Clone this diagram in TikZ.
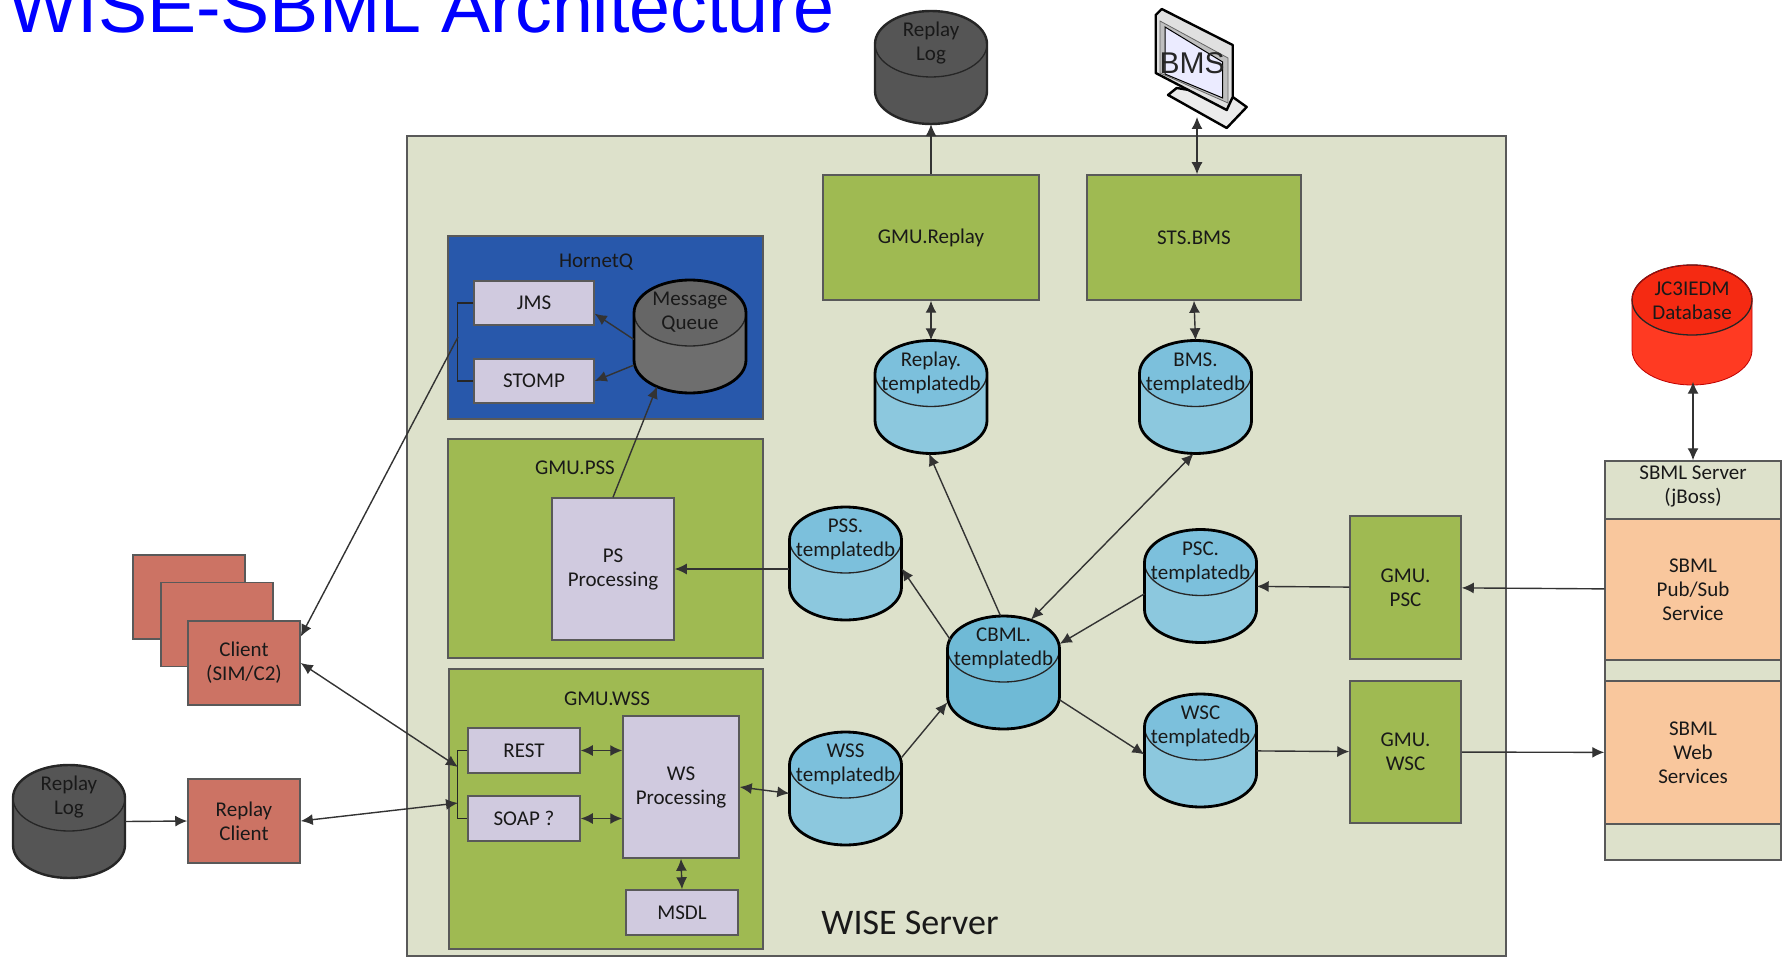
\documentclass[tikz,border=0pt]{standalone}
\usepackage{fontspec}
\setmainfont{Carlito}
\newfontfamily\arialfont{Liberation Sans}
\usetikzlibrary{arrows.meta}
\definecolor{servergreen}{HTML}{DDE1CB}
\definecolor{gmugreen}{HTML}{9FBA52}
\definecolor{lilac}{HTML}{D0CADF}
\definecolor{hornetblue}{HTML}{2858AB}
\definecolor{salmon}{HTML}{CC7364}
\definecolor{peach}{HTML}{F9C79D}
\definecolor{dbtop}{HTML}{7CC0DC}
\definecolor{dbbody}{HTML}{8CC8DE}
\definecolor{cbmlblue}{HTML}{6FBAD6}
\definecolor{logtop}{HTML}{555555}
\definecolor{queuetop}{HTML}{666666}
\definecolor{queuebody}{HTML}{6E6E6E}
\definecolor{redtop}{HTML}{F52A12}
\definecolor{redbody}{HTML}{FF3A22}
\tikzset{
	boxtext/.style={font=\fontsize{21}{24}\selectfont, align=center, text=black!90},
	plainbox/.style={draw=black!65, line width=1.5pt, inner sep=0pt, boxtext},
	greenbox/.style={plainbox, fill=gmugreen},
	lilacbox/.style={plainbox, fill=lilac},
	clientbox/.style={plainbox, fill=salmon, minimum width=112pt, minimum height=84pt},
	peachbox/.style={plainbox, fill=peach, minimum width=176pt},
	dbshape/.style={inner sep=0pt, minimum width=112pt, minimum height=113pt},
	arrowline/.style={draw=black!80, line width=1.4pt, -{Latex[length=12pt,width=11pt]}},
	bothline/.style={draw=black!80, line width=1.4pt, {Latex[length=12pt,width=11pt]}-{Latex[length=12pt,width=11pt]}}
}
\begin{document}
\begin{tikzpicture}[x=1pt,y=-1pt]
	\useasboundingbox (0,0) rectangle (1784,957);

	\node[anchor=base west, inner sep=0pt, text=blue, font=\arialfont\fontsize{73.6}{80}\selectfont] (title) at (8,33) {WISE-SBML Architecture};

	% WISE server
	\node[plainbox, fill=servergreen, minimum width=1099pt, minimum height=820pt] (server) at (956.5,546) {};
	\node[font=\fontsize{36}{40}\selectfont, text=black!90] (serverlabel) at (910,923) {WISE Server};

	% left column
	\node[clientbox] (clientc) at (189,597) {};
	\node[clientbox] (clientb) at (217,624.5) {};
	\node[clientbox] (client) at (244,663) {Client\\(SIM/C2)};
	\node[clientbox] (replayclient) at (244,821) {Replay\\Client};

	% HornetQ
	\node[plainbox, fill=hornetblue, minimum width=315pt, minimum height=183pt] (hornetq) at (605.5,327.5) {};
	\node[boxtext] (hornetlabel) at (596,262) {HornetQ};
	\node[lilacbox, minimum width=120pt, minimum height=44pt] (jms) at (534,303) {JMS};
	\node[lilacbox, minimum width=120pt, minimum height=44pt] (stomp) at (534,381) {STOMP};

	% GMU.PSS
	\node[greenbox, minimum width=315pt, minimum height=219pt] (gmupss) at (605.5,548.5) {};
	\node[boxtext] (psslabel) at (575,468) {GMU.PSS};
	\node[lilacbox, minimum width=122pt, minimum height=142pt] (psproc) at (613,569) {PS\\Processing};

	% GMU.WSS
	\node[greenbox, minimum width=314pt, minimum height=280pt] (gmuwss) at (606,809) {};
	\node[boxtext] (wsslabel) at (607,699) {GMU.WSS};
	\node[lilacbox, minimum width=112pt, minimum height=45pt] (rest) at (524,750.5) {REST};
	\node[lilacbox, minimum width=112pt, minimum height=45pt] (soap) at (524,818.5) {SOAP ?};
	\node[lilacbox, minimum width=116pt, minimum height=142pt] (wsproc) at (681,787) {WS\\Processing};
	\node[lilacbox, minimum width=112pt, minimum height=45pt] (msdl) at (682,912.5) {MSDL};

	% top and right boxes
	\node[greenbox, minimum width=216pt, minimum height=125pt] (gmureplay) at (931,237.5) {GMU.Replay};
	\node[greenbox, minimum width=214pt, minimum height=125pt] (stsbms) at (1194,237.5) {STS.BMS};
	\node[greenbox, minimum width=111pt, minimum height=143pt] (gmupsc) at (1405.5,587.5) {GMU.\\PSC};
	\node[greenbox, minimum width=111pt, minimum height=142pt] (gmuwsc) at (1405.5,752) {GMU.\\WSC};

	\node[plainbox, fill=servergreen, minimum width=176pt, minimum height=399pt] (sbmlserver) at (1693,660.5) {};
	\node[boxtext] (sbmllabel) at (1693,486) {SBML Server\\(jBoss)};
	\node[peachbox, minimum height=141pt] (pubsub) at (1693,589.5) {SBML\\Pub/Sub\\Service};
	\node[peachbox, minimum height=143pt] (websvc) at (1693,752.5) {SBML\\Web\\Services};

	% databases
	\foreach \name/\x/\y/\lines/\topc/\bodyc/\edgec/\lw/\rx/\ry/\side in {
		logtop/931/67.5/{Replay\\Log}/logtop/logtop/black!85/2.4/56/33/23.5,
		logleft/69/821.5/{Replay\\Log}/logtop/logtop/black!85/2.4/56/33/23.5,
		queue/690/336.5/{Message\\Queue}/queuetop/queuebody/black/2.8/56/33/23.5,
		replaydb/931/397/{Replay.\\templatedb}/dbtop/dbbody/black/2.8/56/33/23.5,
		bmsdb/1195.5/397/{BMS.\\templatedb}/dbtop/dbbody/black/2.8/56/33/23.5,
		pssdb/845.5/563.5/{PSS.\\templatedb}/dbtop/dbbody/black/2.8/56/33/23.5,
		wssdb/845.5/788.5/{WSS\\templatedb}/dbtop/dbbody/black/2.8/56/33/23.5,
		pscdb/1200.5/586/{PSC.\\templatedb}/dbtop/dbbody/black/2.8/56/33/23.5,
		wscdb/1200.5/750.5/{WSC\\templatedb}/dbtop/dbbody/black/2.8/56/33/23.5,
		cbmldb/1003.5/672.5/{CBML.\\templatedb}/cbmlblue/cbmlblue/black/2.8/56/33/23.5,
		jcdb/1692/325/{JC3IEDM\\Database}/redtop/redbody/red!75!black/0.8/60/35/25}
	{
		\node[dbshape] (\name) at (\x,\y) {};
		\path[fill=\bodyc] ([shift={(\rx pt,\side pt)}]\name.center)
			arc[start angle=0, delta angle=180, x radius=\rx pt, y radius=\ry pt]
			-- ++(0pt,-2*\side pt)
			arc[start angle=180, delta angle=180, x radius=\rx pt, y radius=\ry pt] -- cycle;
		\draw[draw=black!85, line width=1.3pt, fill=\topc] ([yshift=\side pt]\name.center)
			ellipse [x radius=\rx pt, y radius=\ry pt];
		\draw[draw=\edgec, line width=\lw pt] ([shift={(\rx pt,\side pt)}]\name.center)
			arc[start angle=0, delta angle=180, x radius=\rx pt, y radius=\ry pt]
			-- ++(0pt,-2*\side pt)
			arc[start angle=180, delta angle=180, x radius=\rx pt, y radius=\ry pt] -- cycle;
		\node[boxtext] (\name text) at ([yshift=24pt]\name.center) {\lines};
	}

	% monitor
	\draw[line width=2.4pt, fill=white!92!black, line join=round] (1168,95) -- (1176.7,88) -- (1232.7,97)
		-- (1246.7,107) -- (1226.7,128) -- cycle;
	\draw[line width=2.4pt, fill=black!12, line join=round] (1155.7,15) -- (1161.7,9) -- (1232.7,45)
		-- (1232.7,97) -- (1226.7,110) -- (1155.7,73) -- cycle;
	\draw[line width=0.8pt, draw=black!60, fill=black!25] (1160,21) -- (1228,58) -- (1228,103) -- (1160,73) -- cycle;
	\draw[line width=1pt, fill=blue!8!white] (1165,27) -- (1222.7,62) -- (1222.7,98) -- (1165,74) -- cycle;
	\node[inner sep=0pt, font=\arialfont\fontsize{30}{32}\selectfont, text=black!85] (bmslabel) at (1192,63) {BMS};
	\coordinate (monitorbase) at (1197,117);

	% bus lines
	\coordinate (hornettap) at (458,337);
	\coordinate (wsstapa) at (458,767);
	\coordinate (wsstapb) at (458,803);
	\draw[draw=black!85, line width=1.4pt] (jms.west) -- ++(-16,0) |- (stomp.west);
	\draw[draw=black!85, line width=1.4pt] (rest.west) -- ++(-10,0) |- (soap.west);

	% connectors
	\draw[arrowline] (hornettap) -- (client.25);
	\draw[bothline] (client.east) -- (wsstapa);
	\draw[bothline] (replayclient.east) -- (wsstapb);
	\draw[arrowline] (logleft.east) -- (replayclient.west);
	\draw[arrowline] (queue.183) -- (jms.350);
	\draw[arrowline] (queue.207) -- (stomp.east);
	\draw[arrowline] (psproc.north) -- ([shift={(-33pt,-50pt)}]queue.center);
	\draw[arrowline] (pssdb.180 |- psproc.east) -- (psproc.east);
	\draw[bothline] (rest.east) -- (rest.east -| wsproc.west);
	\draw[bothline] (soap.east) -- (soap.east -| wsproc.west);
	\draw[bothline] (wsproc.south) -- (msdl.north);
	\draw[bothline] (wsproc.east) -- (wssdb.185);
	\draw[arrowline] (gmureplay.north) -- (logtop.south);
	\draw[bothline] (monitorbase) -- (monitorbase |- stsbms.north);
	\draw[bothline] (gmureplay.south) -- (replaydb.north);
	\draw[bothline] (stsbms.south) -- (bmsdb.north);
	\draw[arrowline] ([xshift=-3pt]cbmldb.north) -- ([xshift=-2pt]replaydb.south);
	\draw[bothline] ([xshift=-2pt]bmsdb.south) -- ([shift={(27.5pt,53pt)}]cbmldb.center);
	\draw[arrowline] ([shift={(-53pt,32.5pt)}]cbmldb.center) -- (pssdb.355);
	\draw[arrowline] (wssdb.29) -- (cbmldb.208);
	\draw[arrowline] (pscdb.188) -- (cbmldb.27);
	\draw[arrowline] (cbmldb.334) -- (wscdb.184);
	\draw[arrowline] (gmupsc) -- (pscdb);
	\draw[arrowline] (pubsub) -- (gmupsc);
	\draw[arrowline] (wscdb) -- (gmuwsc);
	\draw[arrowline] (gmuwsc) -- (websvc);
	\draw[bothline] (jcdb.south -| sbmlserver) -- (sbmlserver.north);
\end{tikzpicture}
\end{document}
